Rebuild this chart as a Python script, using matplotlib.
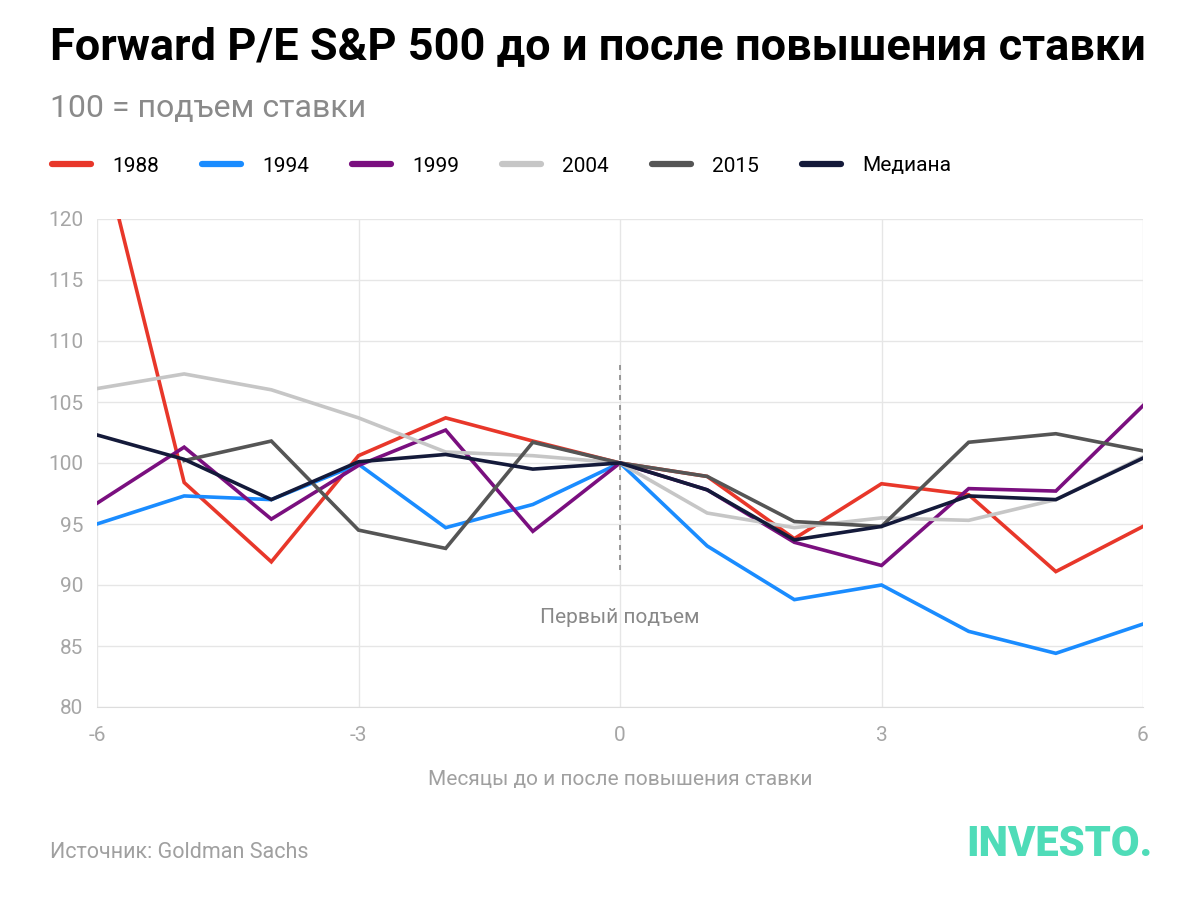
import numpy as np
import matplotlib.pyplot as plt

plt.rcParams['font.family'] = ['Roboto', 'DejaVu Sans']
plt.rcParams['axes.unicode_minus'] = False

months = [-6, -5, -4, -3, -2, -1, 0, 1, 2, 3, 4, 5, 6]

y1988 = [127.3, 98.4, 91.9, 100.6, 103.7, 101.8, 100, 98.9, 93.8, 98.3, 97.4, 91.1, 94.8]
y1994 = [95.0, 97.3, 97.0, 99.9, 94.7, 96.6, 100, 93.2, 88.8, 90.0, 86.2, 84.4, 86.8]
y1999 = [96.7, 101.3, 95.4, 99.8, 102.7, 94.4, 100, 97.8, 93.5, 91.6, 97.9, 97.7, 104.7]
y2004 = [106.1, 107.3, 106.0, 103.7, 100.9, 100.6, 100, 95.9, 94.7, 95.5, 95.3, 97.0, 100.5]
y2015 = [np.nan, 100.2, 101.8, 94.5, 93.0, 101.7, 100, 98.9, 95.2, 94.8, 101.7, 102.4, 101.0]
median = [102.3, 100.3, 97.0, 100.1, 100.7, 99.5, 100, 97.8, 93.7, 94.8, 97.3, 97.0, 100.4]

series = [
    ("1988", y1988, "#e8372a"),
    ("1994", y1994, "#1a8cff"),
    ("1999", y1999, "#7a0f7f"),
    ("2004", y2004, "#c6c6c6"),
    ("2015", y2015, "#555555"),
    ("Медиана", median, "#141a3a"),
]

fig = plt.figure(figsize=(12, 9.19), dpi=100)
ax = fig.add_axes([97 / 1200, 1 - 707 / 919, 1046 / 1200, 488 / 919])

for name, vals, col in series:
    ax.plot(months, vals, color=col, lw=2.6, label=name, solid_joinstyle='miter')

ax.set_xlim(-6, 6)
ax.set_ylim(80, 120)
ax.set_xticks([-6, -3, 0, 3, 6])
ax.set_yticks(range(80, 121, 5))
ax.grid(True, color="#e6e6e6", lw=1)
ax.set_axisbelow(True)
for s in ["top", "right", "left"]:
    ax.spines[s].set_visible(False)
ax.spines["bottom"].set_color("#dddddd")
ax.tick_params(length=0, labelsize=15, colors="#a6a6a6")
ax.tick_params(axis='y', pad=10)
ax.tick_params(axis='x', pad=14)

# vertical marker at first hike
ax.plot([0, 0], [91.2, 108.4], color="#888888", lw=1.2, ls=(0, (3, 3)))
ax.text(0, 87.3, "Первый подъем", ha="center", va="center", fontsize=15, color="#888888")

ax.set_xlabel("Месяцы до и после повышения ставки", fontsize=15, color="#a0a0a0", labelpad=18)

fig.text(50 / 1200, 1 - 47 / 919, "Forward P/E S&P 500 до и после повышения ставки",
         fontsize=32.5, fontweight="bold", color="black", va="center", ha="left")
fig.text(50 / 1200, 1 - 109 / 919, "100 = подъем ставки", fontsize=23, color="#8a8a8a",
         va="center", ha="left")

fig.legend(loc="center left", bbox_to_anchor=(33 / 1200, 1 - 166 / 919), ncol=6,
           frameon=False, fontsize=15, handlelength=1.9, handletextpad=1.0,
           columnspacing=2.05)
for line in fig.legends[0].get_lines():
    line.set_linewidth(4.5)
    line.set_solid_capstyle('round')

fig.text(50 / 1200, 1 - 852 / 919, "Источник: Goldman Sachs", fontsize=15.5, color="#a0a0a0",
         va="center", ha="left")
fig.text(1152 / 1200, 1 - 845 / 919, "INVESTO.", fontsize=30, fontweight="heavy",
         color="#4fdcb8", va="center", ha="right")

fig.savefig("out.png", dpi=100)
